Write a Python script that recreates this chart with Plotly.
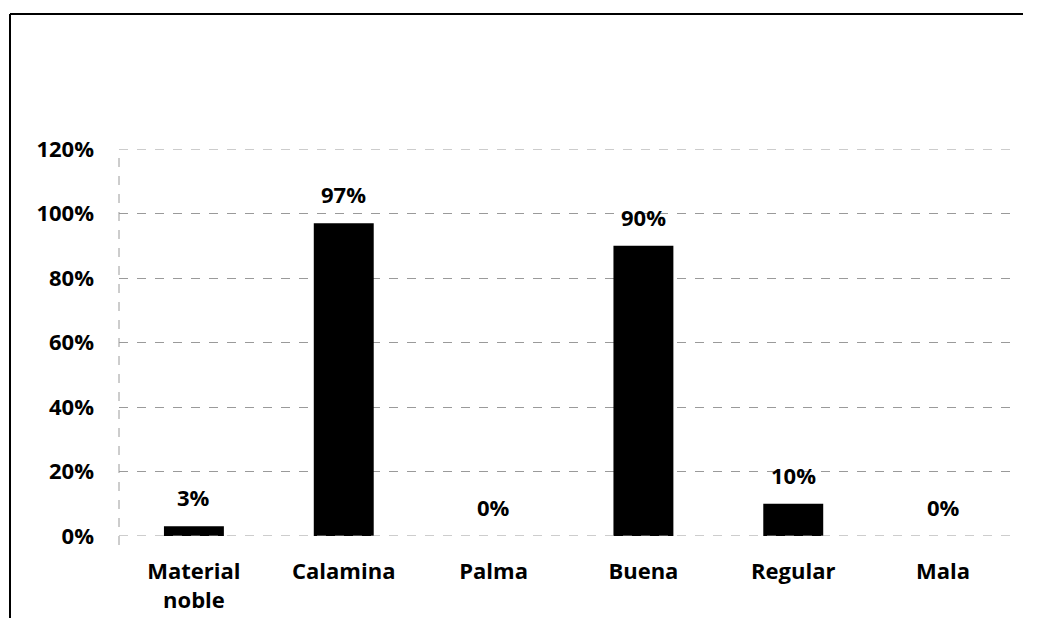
import plotly.graph_objects as go

categories = ["Material<br>noble", "Calamina", "Palma", "Buena", "Regular", "Mala"]
values = [3, 97, 0, 90, 10, 0]
labels = ["3%", "97%", "0%", "90%", "10%", "0%"]
y_ticks = [0, 20, 40, 60, 80, 100, 120]
y_ticktext = ["0%", "20%", "40%", "60%", "80%", "100%", "120%"]

FONT = "Open Sans"
FS = 22
OFF = 8  # default page body margin

W, H = 1041 - 2 * OFF - 10, 630 - 2 * OFF - 4
L, T = 119 - OFF, 149 - OFF
R = W - (1018 - OFF)
B = H - (536 - OFF)
pw, ph = W - L - R, H - T - B

def px_x(x):
    return (x - OFF - L) / pw

def px_y(y):
    return (H - B - (y - OFF)) / ph

GRID = dict(color="#9a9a9a", width=1, dash="dash")

fig = go.Figure()
fig.add_trace(go.Bar(
    x=categories, y=values, textposition="none",
    marker=dict(color="black", line=dict(width=0)),
    width=0.4,
))

for c, v, t in zip(categories, values, labels):
    fig.add_annotation(x=c, y=v, text=t, showarrow=False, yanchor="bottom",
                       yshift=12, font=dict(family=FONT, size=FS, color="black", weight="bold"))

fig.update_layout(
    width=W, height=H,
    margin=dict(l=L, r=R, t=T, b=B, autoexpand=False),
    paper_bgcolor="white", plot_bgcolor="white",
    showlegend=False,
    font=dict(family=FONT, size=FS, color="black", weight="bold"),
    xaxis=dict(showgrid=False, showline=False, ticks="", ticklabelstandoff=20, automargin=False,
               tickfont=dict(family=FONT, size=FS, color="black", weight="bold")),
    yaxis=dict(range=[0, 120], tickvals=y_ticks, ticktext=y_ticktext, automargin=False,
               showgrid=True, gridcolor="#9a9a9a", griddash="dash", gridwidth=1,
               zeroline=False, showline=False, ticks="", ticklabelstandoff=24,
               tickfont=dict(family=FONT, size=FS, color="black", weight="bold")),
    shapes=[
        dict(type="line", xref="paper", yref="y", x0=0, x1=1, y0=y_ticks[0], y1=y_ticks[0], line=GRID),
        dict(type="line", xref="paper", yref="y", x0=0, x1=1, y0=y_ticks[-1], y1=y_ticks[-1], line=GRID),
        dict(type="line", xref="paper", yref="paper", x0=0, x1=0, y0=px_y(545), y1=1, line=GRID),
        dict(type="line", xref="paper", yref="paper", x0=px_x(10), x1=px_x(1100), y0=px_y(14), y1=px_y(14),
             line=dict(color="black", width=2)),
        dict(type="line", xref="paper", yref="paper", x0=px_x(10), x1=px_x(10), y0=px_y(14), y1=px_y(700),
             line=dict(color="black", width=2)),
    ],
)

fig.write_html("out.html", config={"displayModeBar": False})
